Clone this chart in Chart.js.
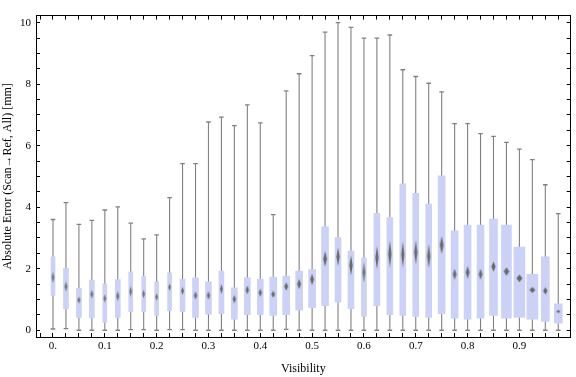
<!DOCTYPE html>
<html>
<head>
<meta charset="utf-8">
<script src="https://cdn.jsdelivr.net/npm/chart.js@4.4.1/dist/chart.umd.min.js"></script>
<style>
  html, body { margin: 0; padding: 0; background: #fff; }
  #boxChart { display: block; }
</style>
</head>
<body>
<canvas id="boxChart" width="576" height="377"></canvas>
<script>
// 類別 (Visibility)
const visibility = [0, 0.025, 0.05, 0.075, 0.1, 0.125, 0.15, 0.175, 0.2, 0.225,
  0.25, 0.275, 0.3, 0.325, 0.35, 0.375, 0.4, 0.425, 0.45, 0.475,
  0.5, 0.525, 0.55, 0.575, 0.6, 0.625, 0.65, 0.675, 0.7, 0.725,
  0.75, 0.775, 0.8, 0.825, 0.85, 0.875, 0.9, 0.925, 0.95, 0.975];

// 盒鬚圖數值 [mm]
const whiskerLow = [0.04, 0.05, 0, 0, 0, 0, 0.02, 0.02, 0, 0.02,
  0.02, 0, 0, 0, 0, 0, 0, 0, 0.03, 0,
  0, 0, 0, 0, 0, 0, 0, 0, 0, 0,
  0, 0, 0, 0, 0, 0, 0, 0, 0, 0];
const lowerQuartile = [1.13, 0.70, 0.42, 0.40, 0.25, 0.42, 0.60, 0.60, 0.48, 0.64,
  0.61, 0.42, 0.52, 0.54, 0.36, 0.51, 0.51, 0.48, 0.51, 0.65,
  0.73, 0.80, 0.91, 0.70, 0.45, 0.80, 0.51, 0.48, 0.45, 0.42,
  0.54, 0.39, 0.36, 0.39, 0.48, 0.39, 0.42, 0.36, 0.29, 0.23];
const medianValues = [1.72, 1.42, 0.98, 1.17, 1.03, 1.11, 1.26, 1.18, 1.08, 1.40,
  1.28, 1.13, 1.13, 1.34, 1.01, 1.31, 1.22, 1.17, 1.42, 1.50,
  1.65, 2.32, 2.39, 2.11, 1.88, 2.36, 2.48, 2.46, 2.53, 2.41,
  2.77, 1.82, 1.88, 1.82, 2.07, 1.91, 1.69, 1.31, 1.28, 0.61];
const upperQuartile = [2.39, 2.01, 1.36, 1.63, 1.51, 1.65, 1.90, 1.75, 1.57, 1.87,
  1.66, 1.70, 1.57, 1.92, 1.38, 1.70, 1.66, 1.73, 1.76, 1.92,
  1.97, 3.36, 3.01, 2.57, 2.35, 3.80, 3.66, 4.76, 4.45, 4.10,
  5.02, 3.23, 3.42, 3.42, 3.61, 3.42, 2.70, 1.82, 2.39, 0.86];
const whiskerHigh = [3.60, 4.15, 3.44, 3.57, 3.91, 4.01, 3.48, 2.97, 3.10, 4.31,
  5.42, 5.42, 6.77, 6.93, 6.65, 7.33, 6.74, 3.76, 7.78, 8.34,
  8.93, 9.69, 10.0, 9.85, 9.50, 9.50, 9.60, 8.47, 8.25, 8.03,
  7.75, 6.72, 6.72, 6.39, 6.30, 6.11, 5.89, 5.55, 4.73, 3.79];
// 中位數信賴區間半高
const medianSpread = [0.19, 0.16, 0.11, 0.14, 0.14, 0.16, 0.18, 0.14, 0.12, 0.12,
  0.13, 0.13, 0.13, 0.16, 0.14, 0.15, 0.14, 0.11, 0.14, 0.17,
  0.19, 0.25, 0.30, 0.33, 0.33, 0.38, 0.45, 0.42, 0.40, 0.39,
  0.29, 0.18, 0.21, 0.18, 0.16, 0.14, 0.12, 0.10, 0.12, 0.05];

// 刻度標籤
const xTickValues = [0, 0.1, 0.2, 0.3, 0.4, 0.5, 0.6, 0.7, 0.8, 0.9];
const xTickLabels = ['0.', '0.1', '0.2', '0.3', '0.4', '0.5', '0.6', '0.7', '0.8', '0.9'];
const yTickValues = [0, 2, 4, 6, 8, 10];
const yTickLabels = ['0', '2', '4', '6', '8', '10'];

// 樣式 (盒寬, px)
const boxWidths = [4, 5, 5, 5, 4, 5, 4, 4, 4, 4,
  5, 6, 6, 5, 6, 6, 6, 7, 7, 7,
  7, 7, 6, 6, 5, 6, 6, 6, 6, 6,
  7, 7, 7, 7, 8, 10, 11, 11, 8, 8];
const boxColor = 'rgb(204, 210, 245)';
const whiskerColor = '#808080';
const medianColor = '#6a6a6a';
const fontFamily = "'Liberation Serif', 'DejaVu Serif', serif";

document.addEventListener('DOMContentLoaded', function() {
    initializeBoxChart();
});

function pickLabel(value, values, labels) {
    for (let i = 0; i < values.length; i++) {
        if (Math.abs(value - values[i]) < 1e-6) return labels[i];
    }
    return '';
}

// 中位數菱形標記
function makeDiamond(w, h) {
    const c = document.createElement('canvas');
    c.width = Math.ceil(w) + 2;
    c.height = Math.ceil(h) + 2;
    const g = c.getContext('2d');
    const cx = c.width / 2, cy = c.height / 2;
    g.fillStyle = medianColor;
    g.beginPath();
    g.moveTo(cx, cy - h / 2);
    g.lineTo(cx + w / 2, cy);
    g.lineTo(cx, cy + h / 2);
    g.lineTo(cx - w / 2, cy);
    g.closePath();
    g.fill();
    return c;
}

function initializeBoxChart() {
    const ctx = document.getElementById('boxChart').getContext('2d');

    // 鬚線
    const whiskerSet = {
        type: 'bar',
        data: visibility.map((x, i) => ({ x: x, y: [whiskerLow[i], whiskerHigh[i]] })),
        backgroundColor: whiskerColor,
        maxBarThickness: 1.1,
        barPercentage: 1,
        categoryPercentage: 1,
        inflateAmount: 0,
        grouped: false,
        order: 3
    };
    const capSet = {
        type: 'scatter',
        data: visibility.map((x, i) => ({ x: x, y: whiskerLow[i] }))
            .concat(visibility.map((x, i) => ({ x: x, y: whiskerHigh[i] }))),
        pointStyle: 'line',
        pointRadius: 2.3,
        borderColor: whiskerColor,
        borderWidth: 1.3,
        order: 3
    };

    // 盒子 (依寬度分組)
    const widthGroups = [...new Set(boxWidths)];
    const boxSets = widthGroups.map(w => ({
        type: 'bar',
        data: visibility
            .map((x, i) => boxWidths[i] === w ? { x: x, y: [lowerQuartile[i], upperQuartile[i]] } : null)
            .filter(Boolean),
        backgroundColor: boxColor,
        maxBarThickness: w,
        barPercentage: 1,
        categoryPercentage: 1,
        grouped: false,
        order: 2
    }));

    // 中位數
    const medianSet = {
        type: 'scatter',
        data: visibility.map((x, i) => ({ x: x, y: medianValues[i] })),
        pointRadius: 3,
        pointBorderWidth: 0,
        pointStyle: function(c) {
            const i = c.dataIndex;
            const yScale = c.chart.scales.y;
            const h = Math.max(3, yScale.getPixelForValue(medianValues[i] - medianSpread[i])
                - yScale.getPixelForValue(medianValues[i] + medianSpread[i]));
            const w = Math.max(2.5, boxWidths[i] * 0.55);
            return makeDiamond(w, h);
        },
        order: 1
    };

    const frameGrid = {
        display: true,
        drawOnChartArea: false,
        drawTicks: true,
        tickLength: -4,
        tickColor: '#000',
        tickWidth: 1,
        offset: false
    };
    const frameBorder = { display: true, color: '#000', width: 1 };
    const xMin = -0.0328, xMax = 0.999;
    const yMin = -0.22, yMax = 10.23;

    const chartConfig = {
        type: 'bar',
        data: {
            datasets: [medianSet].concat(boxSets, [whiskerSet, capSet])
        },
        options: {
            responsive: false,
            animation: false,
            events: [],
            layout: { padding: 0 },
            plugins: {
                legend: { display: false },
                tooltip: { enabled: false }
            },
            scales: {
                x: {
                    type: 'linear',
                    position: 'bottom',
                    min: xMin,
                    max: xMax,
                    offset: false,
                    grid: frameGrid,
                    border: frameBorder,
                    ticks: {
                        stepSize: 0.025,
                        autoSkip: false,
                        includeBounds: false,
                        maxRotation: 0,
                        minRotation: 0,
                        padding: 7,
                        color: '#000',
                        font: { family: fontFamily, size: 11 },
                        callback: v => pickLabel(v, xTickValues, xTickLabels)
                    },
                    title: {
                        display: true,
                        text: 'Visibility',
                        color: '#000',
                        font: { family: fontFamily, size: 12 },
                        padding: { top: 0, bottom: 1 }
                    },
                    afterFit: s => { s.height = 40; }
                },
                xTop: {
                    type: 'linear',
                    position: 'top',
                    min: xMin,
                    max: xMax,
                    offset: false,
                    grid: frameGrid,
                    border: frameBorder,
                    ticks: { stepSize: 0.025, autoSkip: false, includeBounds: false, display: false },
                    afterFit: s => { s.height = 4; }
                },
                y: {
                    type: 'linear',
                    position: 'left',
                    min: yMin,
                    max: yMax,
                    grid: frameGrid,
                    border: frameBorder,
                    ticks: {
                        stepSize: 0.5,
                        autoSkip: false,
                        includeBounds: false,
                        padding: 9,
                        color: '#000',
                        font: { family: fontFamily, size: 11 },
                        callback: v => pickLabel(v, yTickValues, yTickLabels)
                    },
                    title: {
                        display: true,
                        text: 'Absolute Error (Scan\u2192Ref, All) [mm]',
                        color: '#000',
                        font: { family: fontFamily, size: 12 },
                        padding: { top: 1, bottom: 0 }
                    },
                    afterFit: s => { s.width = 36; }
                },
                yRight: {
                    type: 'linear',
                    position: 'right',
                    min: yMin,
                    max: yMax,
                    grid: frameGrid,
                    border: frameBorder,
                    ticks: { stepSize: 0.5, autoSkip: false, includeBounds: false, display: false },
                    afterFit: s => { s.width = 5; }
                }
            }
        }
    };

    // 創建圖表
    const chart = new Chart(ctx, chartConfig);
}
</script>
</body>
</html>
